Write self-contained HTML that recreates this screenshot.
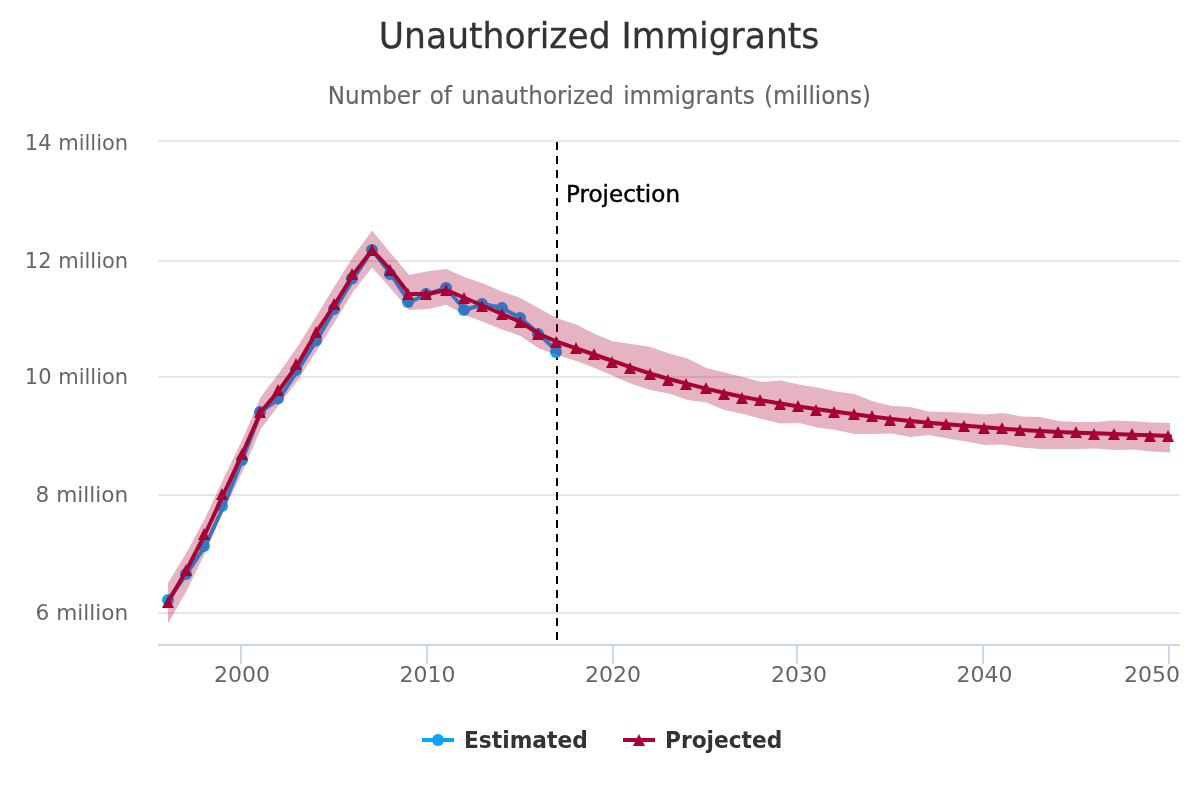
<!DOCTYPE html>
<html lang="en"><head><meta charset="utf-8"><title>Unauthorized Immigrants</title>
<style>html,body{margin:0;padding:0;background:#fff}body{width:1200px;height:800px;overflow:hidden}svg{display:block}text{font-family:'DejaVu Sans','Liberation Sans',sans-serif}</style>
</head><body>
<svg width="1200" height="800" viewBox="0 0 1200 800">
<rect width="1200" height="800" fill="#ffffff"/>
<rect x="158" y="140" width="1022" height="2" fill="#e6e6e6"/>
<rect x="158" y="260" width="1022" height="2" fill="#e6e6e6"/>
<rect x="158" y="376" width="1022" height="2" fill="#e6e6e6"/>
<rect x="158" y="494" width="1022" height="2" fill="#e6e6e6"/>
<rect x="158" y="612" width="1022" height="2" fill="#e6e6e6"/>
<line x1="557" y1="142" x2="557" y2="644" stroke="#000" stroke-width="2" stroke-dasharray="8 6"/>
<rect x="158" y="644" width="1022" height="2" fill="#ccd6eb"/>
<rect x="240" y="644" width="2" height="20" fill="#ccd6eb"/>
<rect x="426" y="644" width="2" height="20" fill="#ccd6eb"/>
<rect x="612" y="644" width="2" height="20" fill="#ccd6eb"/>
<rect x="796" y="644" width="2" height="20" fill="#ccd6eb"/>
<rect x="982" y="644" width="2" height="20" fill="#ccd6eb"/>
<rect x="1168" y="644" width="2" height="20" fill="#ccd6eb"/>
<polyline points="168.02,600 186.57,574 205.13,546 223.68,506 242.24,460 260.79,412 279.35,398.5 297.9,370 316.46,340.5 335.01,309 353.57,278.5 372.12,250 390.68,274 409.23,302 427.79,294 446.34,288 464.9,310 483.45,304 502.01,308 520.56,318 539.12,334 557.67,352" fill="none" stroke="#0aa5fb" stroke-width="4" stroke-linejoin="round" stroke-linecap="round"/>
<circle cx="168" cy="600" r="6" fill="#0aa5fb"/>
<circle cx="186" cy="574" r="6" fill="#0aa5fb"/>
<circle cx="204" cy="546" r="6" fill="#0aa5fb"/>
<circle cx="222" cy="506" r="6" fill="#0aa5fb"/>
<circle cx="242" cy="460" r="6" fill="#0aa5fb"/>
<circle cx="260" cy="412" r="6" fill="#0aa5fb"/>
<circle cx="278" cy="398.5" r="6" fill="#0aa5fb"/>
<circle cx="296" cy="370" r="6" fill="#0aa5fb"/>
<circle cx="316" cy="340.5" r="6" fill="#0aa5fb"/>
<circle cx="334" cy="309" r="6" fill="#0aa5fb"/>
<circle cx="352" cy="278.5" r="6" fill="#0aa5fb"/>
<circle cx="372" cy="250" r="6" fill="#0aa5fb"/>
<circle cx="390" cy="274" r="6" fill="#0aa5fb"/>
<circle cx="408" cy="302" r="6" fill="#0aa5fb"/>
<circle cx="426" cy="294" r="6" fill="#0aa5fb"/>
<circle cx="446" cy="288" r="6" fill="#0aa5fb"/>
<circle cx="464" cy="310" r="6" fill="#0aa5fb"/>
<circle cx="482" cy="304" r="6" fill="#0aa5fb"/>
<circle cx="502" cy="308" r="6" fill="#0aa5fb"/>
<circle cx="520" cy="318" r="6" fill="#0aa5fb"/>
<circle cx="538" cy="334" r="6" fill="#0aa5fb"/>
<circle cx="556" cy="352" r="6" fill="#0aa5fb"/>
<polygon points="168.02,583 186.57,552.5 205.13,518 223.68,478.2 242.24,440 260.79,397 279.35,372.5 297.9,346 316.46,316 335.01,285.5 353.57,256 372.12,230.5 390.68,253.2 409.23,275 427.79,271.2 446.34,269 464.9,277.2 483.45,283.5 502.01,291.5 520.56,298 539.12,308.5 557.67,318.5 576.23,324.5 594.78,334 613.34,341.5 631.89,344 650.45,347 669,353.5 687.56,358.5 706.11,368 724.67,372.5 743.22,377 761.78,382 780.33,380.5 798.89,384.5 817.44,387.5 836,391.5 854.55,394 873.11,401.5 891.66,406 910.22,407 928.77,411.5 947.33,412 965.88,413 984.44,414.5 1002.99,413 1021.55,416.5 1040.1,417 1058.66,421 1077.21,422 1095.77,422 1114.32,420.5 1132.88,421.2 1151.43,422.5 1169.99,423 1169.99,452.5 1151.43,451.5 1132.88,449.5 1114.32,450 1095.77,448.5 1077.21,449 1058.66,449 1040.1,449 1021.55,447.5 1002.99,444.5 984.44,445 965.88,441.5 947.33,438.5 928.77,435 910.22,437 891.66,433.5 873.11,434 854.55,434 836,430 817.44,427.5 798.89,423 780.33,423.5 761.78,419 743.22,414 724.67,410 706.11,402.5 687.56,400 669,393.5 650.45,390 631.89,384 613.34,376 594.78,368 576.23,361 557.67,355 539.12,348.5 520.56,336 502.01,329.5 483.45,322 464.9,315 446.34,304.8 427.79,309 409.23,310 390.68,288.4 372.12,267.5 353.57,291 335.01,321.5 316.46,351 297.9,380 279.35,404.5 260.79,429 242.24,472 223.68,510.5 205.13,553 186.57,591 168.02,623.5" fill="#a80233" fill-opacity="0.3"/>
<polyline points="168.02,602 186.57,570 205.13,534 223.68,494 242.24,454 260.79,412 279.35,390 297.9,364 316.46,332 335.01,304 353.57,274 372.12,250 390.68,270 409.23,294 427.79,294 446.34,290 464.9,298 483.45,306 502.01,314 520.56,322 539.12,334 557.67,342 576.23,348.3 594.78,354.74 613.34,361.26 631.89,367.63 650.45,373.56 669,379 687.56,383.93 706.11,388.59 724.67,393 743.22,397 761.78,400.37 780.33,403.48 798.89,406.44 817.44,409.19 836,411.78 854.55,414.22 873.11,416.67 891.66,419 910.22,421 928.77,422.67 947.33,424.22 965.88,425.78 984.44,427.26 1002.99,428.67 1021.55,429.93 1040.1,431.04 1058.66,431.93 1077.21,432.67 1095.77,433.33 1114.32,434 1132.88,434.67 1151.43,435.33 1169.99,436" fill="none" stroke="#a80233" stroke-width="4" stroke-linejoin="round" stroke-linecap="round"/>
<path d="M168 596L174 608L162 608ZM186 564L192 576L180 576ZM204 528L210 540L198 540ZM222 488L228 500L216 500ZM242 448L248 460L236 460ZM260 406L266 418L254 418ZM278 384L284 396L272 396ZM296 358L302 370L290 370ZM316 326L322 338L310 338ZM334 298L340 310L328 310ZM352 268L358 280L346 280ZM372 244L378 256L366 256ZM390 264L396 276L384 276ZM408 288L414 300L402 300ZM426 288L432 300L420 300ZM446 284L452 296L440 296ZM464 292L470 304L458 304ZM482 300L488 312L476 312ZM502 308L508 320L496 320ZM520 316L526 328L514 328ZM538 328L544 340L532 340ZM556 336L562 348L550 348ZM576 342L582 354L570 354ZM594 348L600 360L588 360ZM612 356L618 368L606 368ZM630 362L636 374L624 374ZM650 368L656 380L644 380ZM668 374L674 386L662 386ZM686 378L692 390L680 390ZM706 382L712 394L700 394ZM724 388L730 400L718 400ZM742 392L748 404L736 404ZM760 394L766 406L754 406ZM780 398L786 410L774 410ZM798 400L804 412L792 412ZM816 404L822 416L810 416ZM834 406L840 418L828 418ZM854 408L860 420L848 420ZM872 410L878 422L866 422ZM890 414L896 426L884 426ZM910 416L916 428L904 428ZM928 416L934 428L922 428ZM946 418L952 430L940 430ZM964 420L970 432L958 432ZM984 422L990 434L978 434ZM1002 422L1008 434L996 434ZM1020 424L1026 436L1014 436ZM1040 426L1046 438L1034 438ZM1058 426L1064 438L1052 438ZM1076 426L1082 438L1070 438ZM1094 428L1100 440L1088 440ZM1114 428L1120 440L1108 440ZM1132 428L1138 440L1126 440ZM1150 430L1156 442L1144 442ZM1168 430L1174 442L1162 442Z" fill="#a80233"/>
<text x="599.1" y="47.5" text-anchor="middle" font-size="36" fill="#333333" stroke="#333333" stroke-width="0.3" textLength="440.5" lengthAdjust="spacingAndGlyphs">Unauthorized Immigrants</text>
<text x="599.4" y="104" text-anchor="middle" font-size="24" fill="#666666" stroke="#666666" stroke-width="0.15" word-spacing="2" textLength="543.2" lengthAdjust="spacingAndGlyphs">Number of unauthorized immigrants (millions)</text>
<text x="128.2" y="149.7" text-anchor="end" font-size="22" fill="#666666" textLength="103.4" lengthAdjust="spacingAndGlyphs">14 million</text>
<text x="128.2" y="268" text-anchor="end" font-size="22" fill="#666666" textLength="103.4" lengthAdjust="spacingAndGlyphs">12 million</text>
<text x="128.2" y="383.7" text-anchor="end" font-size="22" fill="#666666" textLength="103.4" lengthAdjust="spacingAndGlyphs">10 million</text>
<text x="128.2" y="501.7" text-anchor="end" font-size="22" fill="#666666" textLength="92.7" lengthAdjust="spacingAndGlyphs">8 million</text>
<text x="128.2" y="619.7" text-anchor="end" font-size="22" fill="#666666" textLength="92.7" lengthAdjust="spacingAndGlyphs">6 million</text>
<text x="242" y="682" text-anchor="middle" font-size="22" fill="#666666" textLength="56" lengthAdjust="spacingAndGlyphs">2000</text>
<text x="427.5" y="682" text-anchor="middle" font-size="22" fill="#666666" textLength="56" lengthAdjust="spacingAndGlyphs">2010</text>
<text x="613" y="682" text-anchor="middle" font-size="22" fill="#666666" textLength="56" lengthAdjust="spacingAndGlyphs">2020</text>
<text x="799" y="682" text-anchor="middle" font-size="22" fill="#666666" textLength="56" lengthAdjust="spacingAndGlyphs">2030</text>
<text x="984.5" y="682" text-anchor="middle" font-size="22" fill="#666666" textLength="56" lengthAdjust="spacingAndGlyphs">2040</text>
<text x="1152" y="682" text-anchor="middle" font-size="22" fill="#666666" textLength="56" lengthAdjust="spacingAndGlyphs">2050</text>
<text x="566" y="202" font-size="23.2" fill="#000000" stroke="#000000" stroke-width="0.45" textLength="114" lengthAdjust="spacingAndGlyphs">Projection</text>
<rect x="422" y="738" width="32" height="4" fill="#0aa5fb"/><circle cx="438" cy="740" r="6" fill="#0aa5fb"/>
<text x="464" y="747.5" font-size="23.2" font-weight="bold" fill="#333333" style="font-family:'DejaVu Sans Condensed','DejaVu Sans','Liberation Sans',sans-serif" textLength="123.8" lengthAdjust="spacingAndGlyphs">Estimated</text>
<rect x="623" y="738" width="32" height="4" fill="#a80233"/><path d="M639 734L645 746L633 746Z" fill="#a80233"/>
<text x="665" y="747.5" font-size="23.2" font-weight="bold" fill="#333333" style="font-family:'DejaVu Sans Condensed','DejaVu Sans','Liberation Sans',sans-serif" textLength="117.3" lengthAdjust="spacingAndGlyphs">Projected</text>
</svg></body></html>
